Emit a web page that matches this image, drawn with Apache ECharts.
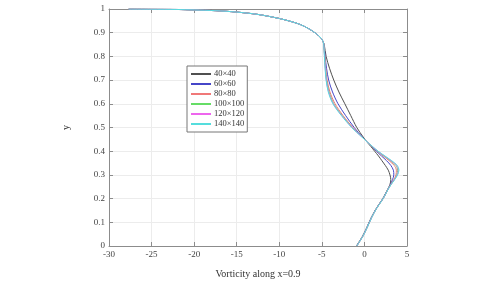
<!DOCTYPE html>
<html>
<head>
<meta charset="utf-8">
<script src="https://cdn.jsdelivr.net/npm/echarts@6/dist/echarts.min.js"></script>
<style>
  html, body { margin: 0; padding: 0; background: #fff; }
  #chart { width: 481px; height: 284px; }
</style>
</head>
<body>
<div id="chart"></div>
<script>
// upper part, where all grids coincide
const topX = [-27.7, -25, -22, -20, -17.5, -15, -12.5, -10, -8.5, -7.5, -6.6, -5.9, -5.4, -5.05, -4.85]
const topY = [1.0, 0.999, 0.998, 0.996, 0.993, 0.987, 0.977, 0.96, 0.946, 0.934, 0.918, 0.902, 0.888, 0.875, 0.862]

// lower part, sampled at these y values
const lowY = [0.85, 0.80, 0.75, 0.70, 0.65, 0.60, 0.55, 0.50, 0.46, 0.44, 0.42, 0.40, 0.38, 0.36,
  0.34, 0.32, 0.30, 0.28, 0.26, 0.24, 0.22, 0.20, 0.18, 0.155, 0.12, 0.08, 0.04, 0.0]

const x40 = [-4.72, -4.5, -4.1, -3.6, -3.0, -2.3, -1.6, -0.9, -0.15, 0.27, 0.75, 1.2, 1.65, 2.05,
  2.45, 2.8, 3.0, 3.1, 3.0, 2.75, 2.45, 2.15, 1.78, 1.33, 0.8, 0.3, -0.25, -0.95]
const x60 = [-4.76, -4.62, -4.45, -4.2, -3.75, -3.1, -2.2, -1.2, -0.25, 0.28, 0.85, 1.4, 2.0, 2.6,
  3.1, 3.4, 3.45, 3.3, 3.05, 2.77, 2.48, 2.18, 1.8, 1.35, 0.82, 0.32, -0.22, -0.92]
const x80 = [-4.77, -4.66, -4.55, -4.38, -4.05, -3.45, -2.5, -1.35, -0.28, 0.29, 0.9, 1.5, 2.2, 2.9,
  3.5, 3.75, 3.7, 3.45, 3.1, 2.78, 2.5, 2.2, 1.82, 1.36, 0.84, 0.34, -0.21, -0.9]
const x100 = [-4.78, -4.68, -4.58, -4.45, -4.15, -3.6, -2.6, -1.42, -0.29, 0.3, 0.92, 1.55, 2.3, 3.05,
  3.7, 3.9, 3.8, 3.5, 3.12, 2.79, 2.5, 2.2, 1.83, 1.37, 0.85, 0.35, -0.2, -0.9]
const x120 = [-4.78, -4.69, -4.6, -4.48, -4.2, -3.65, -2.65, -1.46, -0.3, 0.3, 0.94, 1.58, 2.35, 3.12,
  3.78, 3.98, 3.85, 3.52, 3.14, 2.8, 2.5, 2.2, 1.83, 1.37, 0.85, 0.35, -0.2, -0.9]
const x140 = [-4.78, -4.7, -4.62, -4.5, -4.25, -3.7, -2.7, -1.5, -0.3, 0.3, 0.95, 1.6, 2.4, 3.2,
  3.85, 4.05, 3.9, 3.55, 3.15, 2.8, 2.5, 2.2, 1.83, 1.37, 0.85, 0.35, -0.2, -0.9]

const names = ['40×40', '60×60', '80×80', '100×100', '120×120', '140×140']
const lowX = [x40, x60, x80, x100, x120, x140]
const colors = ['#505050', '#4646c8', '#f07878', '#66dd66', '#ee66ee', '#55dddd']

const font = 'Liberation Serif'

function buildData(xs) {
  const pts = topX.map((x, i) => [x, topY[i]])
  return pts.concat(lowY.map((y, i) => [xs[i], y]))
}

const chart = echarts.init(document.getElementById('chart'))

const axisLine = { show: true, onZero: false, lineStyle: { color: '#8c8c8c', width: 1 } }
const tick = { show: true, inside: true, length: 4, lineStyle: { color: '#8c8c8c' } }

chart.setOption({
  animation: false,
  grid: { left: 109, right: 74, top: 9, bottom: 37 },
  legend: {
    orient: 'vertical',
    left: 187,
    top: 66,
    data: names,
    itemWidth: 20,
    itemHeight: 2,
    itemGap: 0,
    padding: [3, 3, 3, 4],
    borderColor: '#777',
    borderWidth: 1,
    borderRadius: 0,
    backgroundColor: '#fff',
    icon: 'rect',
    textStyle: { fontFamily: font, fontSize: 8.5, lineHeight: 10, color: '#333', padding: [0, 0, 0, -2] }
  },
  xAxis: [
    {
      type: 'value', min: -30, max: 5, interval: 5,
      name: 'Vorticity along x=0.9', nameLocation: 'middle', nameGap: 23,
      nameTextStyle: { fontFamily: font, fontSize: 10, color: '#333' },
      axisLine: axisLine, axisTick: tick,
      axisLabel: { fontFamily: font, fontSize: 9, color: '#444', margin: 4 },
      splitLine: { show: true, lineStyle: { color: '#ececec', width: 1 } }
    },
    {
      type: 'value', position: 'top', min: -30, max: 5, interval: 5,
      axisLine: axisLine, axisTick: tick, axisLabel: { show: false }, splitLine: { show: false }
    }
  ],
  yAxis: [
    {
      type: 'value', min: 0, max: 1, interval: 0.1,
      name: 'y', nameLocation: 'middle', nameGap: 38, nameRotate: 90,
      nameTextStyle: { fontFamily: font, fontSize: 10, color: '#333' },
      axisLine: axisLine, axisTick: tick,
      axisLabel: { fontFamily: font, fontSize: 9, color: '#444', margin: 4 },
      splitLine: { show: true, lineStyle: { color: '#ececec', width: 1 } }
    },
    {
      type: 'value', position: 'right', min: 0, max: 1, interval: 0.1,
      axisLine: axisLine, axisTick: tick, axisLabel: { show: false }, splitLine: { show: false }
    }
  ],
  series: names.map((n, i) => ({
    name: n,
    type: 'line',
    data: buildData(lowX[i]),
    showSymbol: false,
    smooth: 0.3,
    lineStyle: { color: colors[i], width: 1 },
    itemStyle: { color: colors[i] }
  }))
})
</script>
</body>
</html>
